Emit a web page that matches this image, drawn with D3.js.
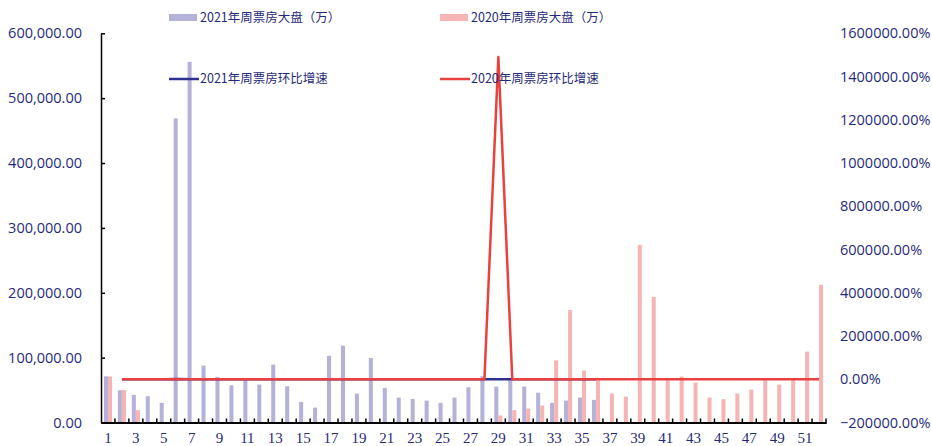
<!DOCTYPE html>
<html>
<head>
<meta charset="utf-8">
<script src="https://cdn.jsdelivr.net/npm/d3@7"></script>
<style>
  html, body { margin: 0; padding: 0; background: #fff; }
</style>
</head>
<body>
<div id="chart"></div>
<script>
// Weekly box office, 2021 vs 2020 (unit: 万), plus week-on-week growth (%)
const weeks = d3.range(1, 53);

const box2021 = [
  71200, 49700, 42600, 40500, 30300, 468700, 556000, 87700, 70300, 57400,
  66000, 58500, 89200, 55900, 31800, 22900, 102800, 118500, 44600, 99500,
  53300, 38500, 36400, 33800, 30300, 38500, 54400, 71300, 55400, 66200,
  55400, 46000, 30300, 33800, 38500, 34900
];

const box2020 = [
  71000, 50000, 19000, 0, 0, 0, 0, 0, 0, 0,
  0, 0, 0, 0, 0, 0, 0, 0, 0, 0,
  0, 0, 0, 0, 0, 0, 0, 1, 10800, 19000,
  21500, 26200, 95800, 173300, 80000, 65100, 44600, 40000, 273800, 193800,
  65100, 70800, 61500, 38500, 35900, 44600, 50800, 65100, 58500, 65100,
  109200, 212300
];

// growth starts at week 2
const growth2021 = [
  -30.2, -14.3, -4.9, -25.2, 1446.9, 18.6, -84.2, -19.8, -18.3, 15.0,
  -11.4, 52.5, -37.3, -43.1, -28.0, 348.9, 15.3, -62.4, 123.1, -46.4,
  -27.8, -5.5, -7.1, -10.4, 27.1, 41.3, 31.1, -22.3, 19.5, -16.3,
  -17.0, -34.1, 11.6, 13.9, -9.4
];

const growth2020 = [
  -29.6, -62.0, -100, 0, 0, 0, 0, 0, 0, 0,
  0, 0, 0, 0, 0, 0, 0, 0, 0, 0,
  0, 0, 0, 0, 0, 0, 0, 1490000, 75.9, 13.2,
  21.9, 265.6, 80.9, -53.8, -18.6, -31.5, -10.3, 584.5, -29.2, -66.4,
  8.8, -13.1, -37.4, -6.8, 24.2, 13.9, 28.1, -10.1, 11.3, 67.7,
  94.4
];

const leftTicks = d3.range(0, 600001, 100000);
const rightTicks = d3.range(-200000, 1600001, 200000);

const seriesNames = ["2021年周票房大盘（万）", "2020年周票房大盘（万）", "2021年周票房环比增速", "2020年周票房环比增速"];

const navy = "#1f2a7c";
const purple = "#b5b2d9";
const pink = "#f6b5b5";
const blueLine = "#2e3192";
const redLine = "#e8413f";

const W = 932, H = 446;
const plot = { left: 101, right: 826, top: 33.3, bottom: 422.5 };

const svg = d3.select("#chart")
  .append("svg")
  .attr("width", W)
  .attr("height", H)
  .attr("viewBox", `0 0 ${W} ${H}`);

// Scales
const x = d3.scaleBand()
  .domain(weeks)
  .range([plot.left, plot.right])
  .paddingInner(0.42)
  .paddingOuter(0.21);

const xSub = d3.scaleBand()
  .domain(["2021", "2020"])
  .range([0, x.bandwidth()]);

const yLeft = d3.scaleLinear()
  .domain([0, 600000])
  .range([plot.bottom, plot.top]);

const yRight = d3.scaleLinear()
  .domain([-200000, 1600000])
  .range([plot.bottom, plot.top]);

// Bars
svg.append("g")
  .selectAll("rect")
  .data(box2021.map((v, i) => ({ week: weeks[i], v })))
  .enter()
  .append("rect")
  .attr("x", d => x(d.week) + xSub("2021"))
  .attr("y", d => yLeft(d.v))
  .attr("width", xSub.bandwidth())
  .attr("height", d => yLeft(0) - yLeft(d.v))
  .attr("fill", purple);

svg.append("g")
  .selectAll("rect")
  .data(box2020.map((v, i) => ({ week: weeks[i], v })))
  .enter()
  .append("rect")
  .attr("x", d => x(d.week) + xSub("2020"))
  .attr("y", d => yLeft(d.v))
  .attr("width", xSub.bandwidth())
  .attr("height", d => yLeft(0) - yLeft(d.v))
  .attr("fill", pink);

// Growth lines
const cx = w => x(w) + x.bandwidth() / 2;
const line = d3.line()
  .x(d => cx(d.week))
  .y(d => yRight(d.v));

svg.append("path")
  .datum(growth2021.map((v, i) => ({ week: weeks[i + 1], v })))
  .attr("d", line)
  .attr("fill", "none")
  .attr("stroke", blueLine)
  .attr("stroke-width", 2.5);

svg.append("path")
  .datum(growth2020.map((v, i) => ({ week: weeks[i + 1], v })))
  .attr("d", line)
  .attr("fill", "none")
  .attr("stroke", redLine)
  .attr("stroke-width", 2.5)
  .attr("stroke-linejoin", "round");

// Left axis (ticks point inward)
const leftAxis = svg.append("g")
  .attr("transform", `translate(${plot.left},0)`)
  .call(d3.axisLeft(yLeft)
    .tickValues(leftTicks)
    .tickFormat(d3.format(",.2f"))
    .tickSizeInner(-4)
    .tickSizeOuter(0)
    .tickPadding(19));
leftAxis.select(".domain").attr("stroke", "#000").attr("stroke-width", 1.5);
leftAxis.selectAll(".tick line").attr("stroke", "#000").attr("stroke-width", 1.5);
leftAxis.selectAll("text")
  .attr("fill", navy)
  .style("font-family", "'Open Sans', sans-serif")
  .style("font-size", "14.5px");

// Right axis: labels only
const rightAxis = svg.append("g")
  .attr("transform", `translate(${plot.right},0)`)
  .call(d3.axisRight(yRight)
    .tickValues(rightTicks)
    .tickFormat(d => d3.format(".2f")(d) + "%")
    .tickSize(0)
    .tickPadding(14));
rightAxis.select(".domain").remove();
rightAxis.selectAll("text")
  .attr("fill", navy)
  .style("font-family", "'Open Sans', sans-serif")
  .style("font-size", "14.5px");

// Bottom axis: odd week labels, boundary ticks
const bottomAxis = svg.append("g")
  .attr("transform", `translate(0,${plot.bottom})`)
  .call(d3.axisBottom(x)
    .tickFormat(d => d % 2 === 1 ? d : "")
    .tickSize(0)
    .tickPadding(10));
bottomAxis.select(".domain").attr("stroke", "#000").attr("stroke-width", 2);
bottomAxis.selectAll("text")
  .attr("fill", navy)
  .style("font-family", "'Liberation Serif', 'Times New Roman', serif")
  .style("font-size", "15px");

bottomAxis.selectAll(".boundary")
  .data(weeks.slice(1).concat(["end"]))
  .enter()
  .append("line")
  .attr("class", "boundary")
  .attr("x1", d => d === "end" ? plot.right : x(d) - x.step() * x.paddingInner() / 2)
  .attr("x2", d => d === "end" ? plot.right : x(d) - x.step() * x.paddingInner() / 2)
  .attr("y1", -4)
  .attr("y2", 1)
  .attr("stroke", "#000")
  .attr("stroke-width", 1.5);

// Legend
const legendPos = [
  { x: 169, y: 17.5, type: "rect", color: purple },
  { x: 440, y: 17.5, type: "rect", color: pink },
  { x: 169, y: 79, type: "line", color: blueLine },
  { x: 440, y: 79, type: "line", color: redLine }
];

const legend = svg.append("g");
seriesNames.forEach((name, i) => {
  const p = legendPos[i];
  if (p.type === "rect") {
    legend.append("rect")
      .attr("x", p.x).attr("y", p.y - 3.5)
      .attr("width", 28).attr("height", 7)
      .attr("fill", p.color);
  } else {
    legend.append("line")
      .attr("x1", p.x).attr("x2", p.x + 30)
      .attr("y1", p.y).attr("y2", p.y)
      .attr("stroke", p.color)
      .attr("stroke-width", 2.5);
  }
  legend.append("text")
    .attr("x", p.x + 31)
    .attr("y", p.y)
    .attr("dy", "0.35em")
    .attr("fill", navy)
    .style("font-family", "'Noto Sans CJK SC', sans-serif")
    .style("font-size", "12.5px")
    .text(name);
});
</script>
</body>
</html>
